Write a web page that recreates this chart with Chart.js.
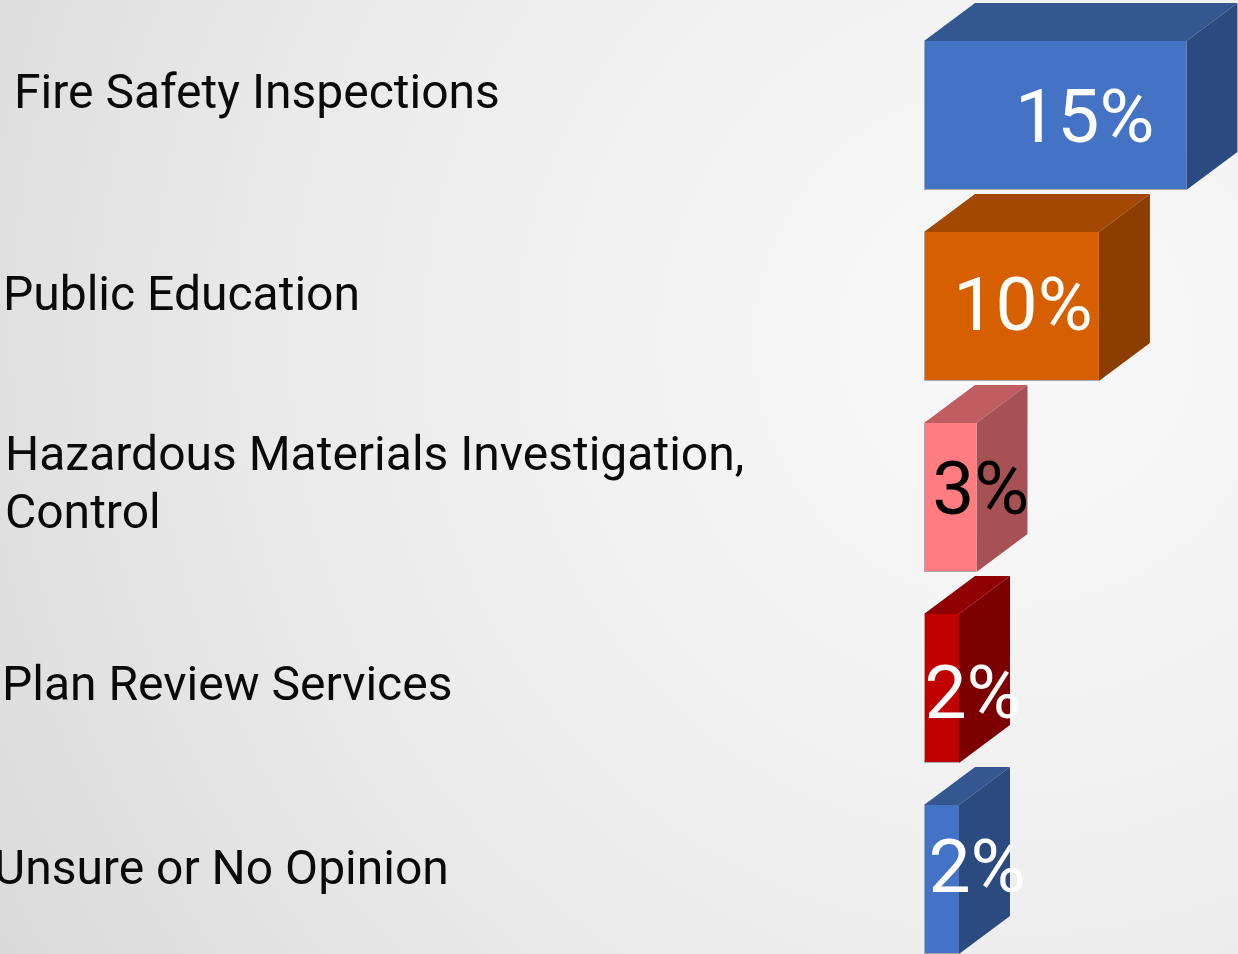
<!DOCTYPE html>
<html>
<head>
<meta charset="utf-8">
<title>Services chart</title>
<script src="https://cdn.jsdelivr.net/npm/chart.js@4"></script>
<style>
    html, body { margin: 0; height: 954px; overflow: hidden; }
    body { background: radial-gradient(circle at 82% 36%, #f7f7f7 0%, #f5f5f5 20%, #ebebeb 60%, #dadada 100%); }
    canvas { display: block; }
</style>
</head>
<body>
<canvas id="services-chart" width="1238" height="975"></canvas>
<script>
const categories = [
    ['Fire Safety Inspections'],
    ['Public Education'],
    ['Hazardous Materials Investigation,', 'Control'],
    ['Plan Review Services'],
    ['Unsure or No Opinion']
];
const percentValues = [15, 10, 3, 2, 2];
const percentLabels = ['15%', '10%', '3%', '2%', '2%'];

const frontColors = ['#4472C4', '#D65F00', '#FF7C80', '#C00000', '#4472C4'];
const topColors = ['#345792', '#A34800', '#BF5D60', '#900000', '#345792'];
const sideColors = ['#2A4A80', '#8B3E00', '#A65153', '#7D0000', '#2A4A80'];
const labelColors = ['#ffffff', '#ffffff', '#000000', '#ffffff', '#ffffff'];

// the slide text boxes don't line up, so each one gets its own nudge
const categoryX = [14, 3, 5, 2, -6];
const categoryNudgeY = [-20, -9, -11, -1, -8];
const valueNudgeX = [4, -14, 5, 6, 10];
const valueNudgeY = [8, 5, -2, 11, -6];

const depthX = 51;
const depthY = 38;

const boxSides = {
    id: 'boxSides',
    beforeDatasetsDraw(chart) {
        const ctx = chart.ctx;
        chart.getDatasetMeta(0).data.forEach((bar, i) => {
            const top = bar.y - bar.height / 2;
            const bottom = bar.y + bar.height / 2;
            const left = bar.base;
            const right = bar.x;

            ctx.fillStyle = topColors[i];
            ctx.beginPath();
            ctx.moveTo(left, top);
            ctx.lineTo(left + depthX, top - depthY);
            ctx.lineTo(right + depthX, top - depthY);
            ctx.lineTo(right, top);
            ctx.closePath();
            ctx.fill();

            ctx.fillStyle = sideColors[i];
            ctx.beginPath();
            ctx.moveTo(right, top);
            ctx.lineTo(right + depthX, top - depthY);
            ctx.lineTo(right + depthX, bottom - depthY);
            ctx.lineTo(right, bottom);
            ctx.closePath();
            ctx.fill();
        });
    }
};

const slideText = {
    id: 'slideText',
    afterDatasetsDraw(chart) {
        const ctx = chart.ctx;
        const yScale = chart.scales.y;
        ctx.save();
        ctx.textBaseline = 'middle';

        ctx.font = '48px Roboto';
        ctx.fillStyle = '#0a0a0a';
        ctx.textAlign = 'left';
        categories.forEach((lines, i) => {
            const mid = yScale.getPixelForValue(i) + categoryNudgeY[i];
            lines.forEach((line, n) => {
                const offset = (n - (lines.length - 1) / 2) * 58;
                ctx.fillText(line, categoryX[i], mid + offset);
            });
        });

        ctx.font = '75px Roboto';
        ctx.textAlign = 'center';
        chart.getDatasetMeta(0).data.forEach((bar, i) => {
            ctx.fillStyle = labelColors[i];
            const x = (bar.base + bar.x + depthX) / 2 + valueNudgeX[i];
            ctx.fillText(percentLabels[i], x, bar.y + valueNudgeY[i]);
        });
        ctx.restore();
    }
};

new Chart(document.getElementById('services-chart').getContext('2d'), {
    type: 'bar',
    data: {
        labels: categories,
        datasets: [{
            data: percentValues,
            backgroundColor: frontColors,
            borderColor: '#a8a8a8',
            borderWidth: { left: 1, bottom: 1 },
            borderSkipped: false,
            categoryPercentage: 1,
            barPercentage: 0.78
        }]
    },
    options: {
        indexAxis: 'y',
        responsive: false,
        animation: false,
        layout: { padding: { left: 924, top: 20 } },
        plugins: {
            legend: { display: false },
            tooltip: { enabled: false }
        },
        scales: {
            x: { display: false, min: 0, max: 17.95 },
            y: { display: false }
        }
    },
    plugins: [boxSides, slideText]
});
</script>
</body>
</html>
